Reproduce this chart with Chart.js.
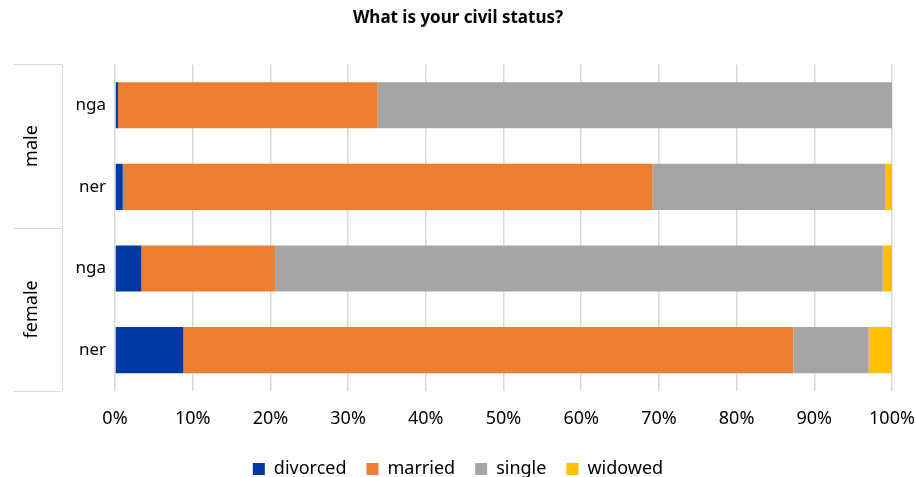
<!DOCTYPE html>
<html>
<head>
<meta charset="utf-8">
<script src="https://cdn.jsdelivr.net/npm/chart.js@4"></script>
<style>
  body { margin: 0; background: #fff; }
  #wrap { width: 916px; height: 477px; }
</style>
</head>
<body>
<div id="wrap"><canvas id="chart"></canvas></div>
<script>
const countries = ['nga', 'ner', 'nga', 'ner'];
const groups = ['male', 'female'];
const divorced = [0.4, 1.0, 3.4, 8.8];
const married = [33.4, 68.2, 17.2, 78.5];
const single = [66.2, 29.9, 78.2, 9.7];
const widowed = [0, 0.9, 1.2, 3.0];
const xTicks = ['0%', '10%', '20%', '30%', '40%', '50%', '60%', '70%', '80%', '90%', '100%'];

const FONT = "'Noto Sans', 'Open Sans', sans-serif";
const lineColor = '#d9d9d9';

// draws the outer "male"/"female" level of the category axis
const groupAxis = {
  id: 'groupAxis',
  afterDraw(chart) {
    const ctx = chart.ctx;
    const top = chart.chartArea.top;
    const bottom = chart.chartArea.bottom;
    const mid = (top + bottom) / 2;
    ctx.save();
    ctx.strokeStyle = lineColor;
    ctx.lineWidth = 1;
    ctx.beginPath();
    ctx.moveTo(62.5, top); ctx.lineTo(62.5, bottom);
    [top, mid, bottom].forEach(p => {
      ctx.moveTo(14, Math.round(p) + 0.5);
      ctx.lineTo(62, Math.round(p) + 0.5);
    });
    ctx.stroke();
    ctx.fillStyle = '#000';
    ctx.font = '18px ' + FONT;
    ctx.textAlign = 'center';
    ctx.textBaseline = 'middle';
    groups.forEach((g, i) => {
      const cy = i === 0 ? (top + mid) / 2 : (mid + bottom) / 2;
      ctx.save();
      ctx.translate(32, cy);
      ctx.rotate(-Math.PI / 2);
      ctx.fillText(g, 0, 0);
      ctx.restore();
    });
    ctx.restore();
  }
};

new Chart(document.getElementById('chart'), {
  type: 'bar',
  data: {
    labels: countries,
    datasets: [
      { label: 'divorced', data: divorced, backgroundColor: '#0039a6' },
      { label: 'married', data: married, backgroundColor: '#ed7d31' },
      { label: 'single', data: single, backgroundColor: '#a5a5a5' },
      { label: 'widowed', data: widowed, backgroundColor: '#ffc000' }
    ]
  },
  options: {
    indexAxis: 'y',
    responsive: true,
    maintainAspectRatio: false,
    animation: false,
    categoryPercentage: 1,
    barPercentage: 0.565,
    borderWidth: 0,
    layout: { padding: { left: 0, right: 0, top: 0, bottom: -11 } },
    plugins: {
      title: {
        display: true,
        text: 'What is your civil status?',
        color: '#000',
        font: { family: FONT, size: 17, weight: 'bold' },
        padding: { top: 8, bottom: 36 }
      },
      legend: {
        position: 'bottom',
        labels: {
          color: '#000',
          font: { family: FONT, size: 18 },
          boxWidth: 12,
          boxHeight: 12,
          padding: 20
        }
      },
      tooltip: { enabled: false }
    },
    scales: {
      x: {
        stacked: true,
        min: 0,
        max: 100,
        ticks: {
          stepSize: 10,
          color: '#000',
          font: { family: FONT, size: 18 },
          padding: 17,
          maxRotation: 0,
          callback: (v, i) => xTicks[i]
        },
        grid: { color: lineColor, lineWidth: 1.5, drawTicks: false },
        border: { display: false },
        afterFit(scale) {
          scale.height = 49;
          scale.paddingRight = 24;
        }
      },
      y: {
        stacked: true,
        ticks: {
          color: '#000',
          font: { family: FONT, size: 17 },
          padding: 9
        },
        grid: { display: false, drawTicks: false },
        border: { display: false },
        afterFit(scale) { scale.width = 115; }
      }
    }
  },
  plugins: [groupAxis]
});
</script>
</body>
</html>
